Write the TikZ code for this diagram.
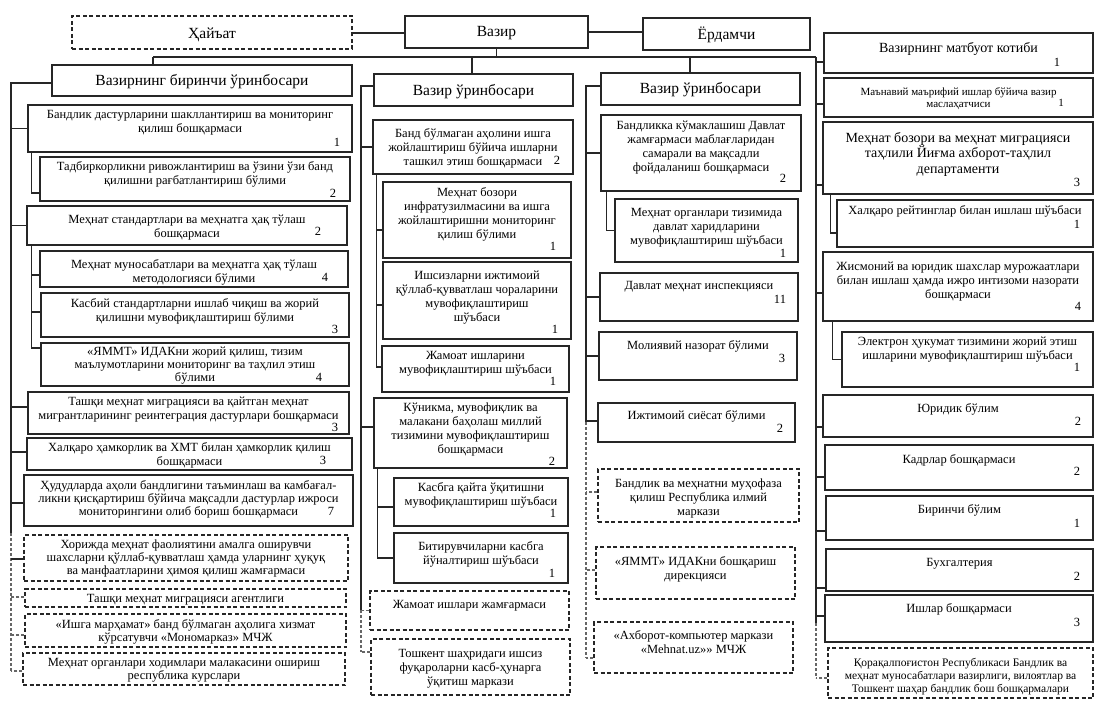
\documentclass[tikz,border=0pt]{standalone}
\usepackage{fontspec}
\setmainfont{Liberation Serif}
\usetikzlibrary{fit}
\newcommand\fl{\rule{0pt}{0.92em}}
% #1 extra box style, #2 name, #3 corner, #4 corner, #5 text style, #6 first-line centre y, #7 text
\newcommand\bx[7][]{%
  \node[box,#1,fit={(#3) (#4)}] (#2) {};
  \node[#5,anchor=north] (#2t) at (#2.center |- 0,#6) {\fl #7};}
\tikzset{
  box/.style={draw=black!85, line width=1.5pt, inner sep=0pt, fill=white},
  dbox/.style={dash pattern=on 4pt off 2.5pt, line width=1.4pt},
  conn/.style={draw=black!85, line width=1.3pt},
  dconn/.style={draw=black!60, line width=1.1pt, dash pattern=on 3pt off 2pt},
  base/.style={align=center, inner sep=0pt, text=black},
  txt/.style={base, font=\fontsize{12.5}{13.8}\selectfont, yshift=7pt},
  txtc/.style={base, font=\fontsize{12.5}{12.7}\selectfont, yshift=7pt},
  txts/.style={base, font=\fontsize{11.5}{13}\selectfont, yshift=6.4pt},
  ttl/.style={base, font=\fontsize{15.5}{17}\selectfont, yshift=8.7pt},
  ttm/.style={base, font=\fontsize{14}{15.5}\selectfont, yshift=7.9pt},
  sml/.style={base, font=\fontsize{11}{12}\selectfont, yshift=6.2pt},
  num/.style={font=\fontsize{12.5}{14}\selectfont, inner sep=0pt, text=black},
  nums/.style={num, font=\fontsize{11}{12}\selectfont},
}
\begin{document}
\begin{tikzpicture}[x=1pt,y=-1pt]
\useasboundingbox[fill=white] (0,0) rectangle (1100,714);

% ---- top row
\bx[dbox]{hay}{72,16}{352,49}{ttl}{33}{Ҳайъат}
\bx{vaz}{405,16}{588,48}{ttl}{31}{Вазир}
\bx{yor}{643,18}{810,50}{ttl}{34}{Ёрдамчи}
\bx{d1}{52,65}{352,96}{ttl}{80}{Вазирнинг биринчи ўринбосари}
\bx{d2}{374,74}{573,106}{ttl}{90}{Вазир ўринбосари}
\bx{d3}{601,73}{800,105}{ttl}{88}{Вазир ўринбосари}

% ---- column A
\bx{A1}{28,105}{352,152}{txt}{114}{Бандлик дастурларини шакллантириш ва мониторинг\\қилиш бошқармаси}
\node[num] (A1n) at (337,142) {1};
\bx{A1a}{40,157}{350,201}{txt}{166}{Тадбиркорликни ривожлантириш ва ўзини ўзи банд\\қилишни рағбатлантириш бўлими}
\node[num] (A1an) at (333,193) {2};
\bx{A2}{27,206}{347,245}{txt}{219}{Меҳнат стандартлари ва меҳнатга ҳақ тўлаш\\бошқармаси}
\node[num] (A2n) at (318,231) {2};
\bx{A2a}{40,251}{348,287}{txt}{264}{Меҳнат муносабатлари ва меҳнатга ҳақ тўлаш\\методологияси бўлими}
\node[num] (A2an) at (325,277) {4};
\bx{A2b}{41,293}{349,337}{txt}{303}{Касбий стандартларни ишлаб чиқиш ва жорий\\қилишни мувофиқлаштириш бўлими}
\node[num] (A2bn) at (335,329) {3};
\bx{A2c}{41,343}{349,386}{txtc}{351}{«ЯММТ» ИДАКни жорий қилиш, тизим\\маълумотларини мониторинг ва таҳлил этиш\\бўлими}
\node[num] (A2cn) at (319,377) {4};
\bx{A3}{28,392}{349,434}{txt}{401}{Ташқи меҳнат миграцияси ва қайтган меҳнат\\мигрантларининг реинтеграция дастурлари бошқармаси}
\node[num] (A3n) at (335,427) {3};
\bx{A4}{27,438}{352,470}{txt}{447}{Халқаро ҳамкорлик ва ХМТ билан ҳамкорлик қилиш\\бошқармаси}
\node[num] (A4n) at (323,460) {3};
\bx{A5}{24,475}{353,526}{txtc}{485}{Ҳудудларда аҳоли бандлигини таъминлаш ва камбағал-\\ликни қисқартириш бўйича мақсадли дастурлар ижроси\\мониторингини олиб бориш бошқармаси}
\node[num] (A5n) at (331,511) {7};
\bx[dbox]{A6}{24,535}{348,581}{txtc}{544}{Хорижда меҳнат фаолиятини амалга оширувчи\\шахсларни қўллаб-қувватлаш ҳамда уларнинг ҳуқуқ\\ва манфаатларини ҳимоя қилиш жамғармаси}
\bx[dbox]{A7}{25,589}{346,607}{txt}{598}{Ташқи меҳнат миграцияси агентлиги}
\bx[dbox]{A8}{25,614}{346,647}{txtc}{624}{«Ишга марҳамат» банд бўлмаган аҳолига хизмат\\кўрсатувчи «Мономарказ» МЧЖ}
\bx[dbox]{A9}{23,653}{345,685}{txtc}{662}{Меҳнат органлари ходимлари малакасини ошириш\\республика курслари}

% ---- column B
\bx{B1}{373,120}{573,174}{txt}{133}{Банд бўлмаган аҳолини ишга\\жойлаштириш бўйича ишларни\\ташкил этиш бошқармаси}
\node[num] (B1n) at (557,160) {2};
\bx{B1a}{383,182}{571,258}{txt}{192}{Меҳнат бозори\\инфратузилмасини ва ишга\\жойлаштиришни мониторинг\\қилиш бўлими}
\node[num] (B1an) at (553,246) {1};
\bx{B1b}{383,262}{571,339}{txt}{275}{Ишсизларни ижтимоий\\қўллаб-қувватлаш чораларини\\мувофиқлаштириш\\шўъбаси}
\node[num] (B1bn) at (555,329) {1};
\bx{B1c}{382,346}{569,392}{txt}{355}{Жамоат ишларини\\мувофиқлаштириш шўъбаси}
\node[num] (B1cn) at (553,381) {1};
\bx{B2}{374,398}{567,468}{txt}{407}{Кўникма, мувофиқлик ва\\малакани баҳолаш миллий\\тизимини мувофиқлаштириш\\бошқармаси}
\node[num] (B2n) at (552,461) {2};
\bx{B2a}{394,478}{568,526}{txt}{487}{Касбга қайта ўқитишни\\мувофиқлаштириш шўъбаси}
\node[num] (B2an) at (553,513) {1};
\bx{B2b}{394,533}{568,583}{txt}{546}{Битирувчиларни касбга\\йўналтириш шўъбаси}
\node[num] (B2bn) at (552,573) {1};
\bx[dbox]{B3}{370,591}{569,630}{txt}{604}{Жамоат ишлари жамғармаси}
\bx[dbox]{B4}{371,639}{570,695}{txt}{653}{Тошкент шаҳридаги ишсиз\\фуқароларни касб-ҳунарга\\ўқитиш маркази}

% ---- column C
\bx{C1}{601,115}{801,191}{txt}{125}{Бандликка кўмаклашиш Давлат\\жамғармаси маблағларидан\\самарали ва мақсадли\\фойдаланиш бошқармаси}
\node[num] (C1n) at (783,178) {2};
\bx{C1a}{615,199}{798,262}{txt}{212}{Меҳнат органлари тизимида\\давлат харидларини\\мувофиқлаштириш шўъбаси}
\node[num] (C1an) at (783,253) {1};
\bx{C2}{600,273}{798,321}{txt}{285}{Давлат меҳнат инспекцияси}
\node[num] (C2n) at (780,299) {11};
\bx{C3}{599,332}{797,380}{txt}{345}{Молиявий назорат бўлими}
\node[num] (C3n) at (782,358) {3};
\bx{C4}{598,403}{795,442}{txt}{415}{Ижтимоий сиёсат бўлими}
\node[num] (C4n) at (780,428) {2};
\bx[dbox]{C5}{598,469}{799,522}{txt}{483}{Бандлик ва меҳнатни муҳофаза\\қилиш Республика илмий\\маркази}
\bx[dbox]{C6}{596,547}{795,599}{txt}{561}{«ЯММТ» ИДАКни бошқариш\\дирекцияси}
\bx[dbox]{C7}{594,622}{793,673}{txt}{635}{«Ахборот-компьютер маркази\\«Mehnat.uz»» МЧЖ}

% ---- column D
\bx{D1}{824,33}{1093,73}{ttm}{47}{Вазирнинг матбуот котиби}
\node[num] (D1n) at (1057,62) {1};
\bx{D2}{824,78}{1093,117}{sml}{91}{Маънавий маърифий ишлар бўйича вазир\\маслаҳатчиси}
\node[nums] (D2n) at (1061,103) {1};
\bx{D3}{823,122}{1093,194}{ttm}{137}{Меҳнат бозори ва меҳнат миграцияси\\таҳлили Йиғма ахборот-таҳлил\\департаменти}
\node[num] (D3n) at (1077,182) {3};
\bx{D3a}{837,200}{1093,247}{txt}{210}{Халқаро рейтинглар билан ишлаш шўъбаси}
\node[num] (D3an) at (1077,224) {1};
\bx{D4}{823,252}{1093,321}{txt}{266}{Жисмоний ва юридик шахслар мурожаатлари\\билан ишлаш ҳамда ижро интизоми назорати\\бошқармаси}
\node[num] (D4n) at (1078,306) {4};
\bx{D4a}{842,332}{1093,387}{txt}{341}{Электрон ҳукумат тизимини жорий этиш\\ишларини мувофиқлаштириш шўъбаси}
\node[num] (D4an) at (1077,367) {1};
\bx{D5}{823,395}{1093,437}{txt}{408}{Юридик бўлим}
\node[num] (D5n) at (1078,421) {2};
\bx{D6}{825,445}{1093,490}{txt}{459}{Кадрлар бошқармаси}
\node[num] (D6n) at (1077,471) {2};
\bx{D7}{826,496}{1093,540}{txt}{509}{Биринчи бўлим}
\node[num] (D7n) at (1077,523) {1};
\bx{D8}{826,549}{1093,591}{txt}{562}{Бухгалтерия}
\node[num] (D8n) at (1077,576) {2};
\bx{D9}{825,595}{1093,642}{txt}{608}{Ишлар бошқармаси}
\node[num] (D9n) at (1077,622) {3};
\bx[dbox]{D10}{828,648}{1093,698}{txts}{662}{Қорақалпоғистон Республикаси Бандлик ва\\меҳнат муносабатлари вазирлиги, вилоятлар ва\\Тошкент шаҳар бандлик бош бошқармалари}

% ---- connectors: top
\draw[conn] ([yshift=-0.5pt]hay.east) -- ([yshift=-0.5pt]hay.east -| vaz.west);
\draw[conn] (vaz.east) -- (vaz.east -| yor.west);
\coordinate (busL) at (153,57);
\coordinate (busR) at (816,57);
\coordinate (bB) at (472,57);
\coordinate (bC) at (690,57);
\draw[conn] (busL) -- (busR);
\draw[conn] (vaz.south) -- (vaz.south |- busL);
\draw[conn] (busL) -- (busL |- d1.north);
\draw[conn] (bB) -- (bB |- d2.north);
\draw[conn] (bC) -- (bC |- d3.north);

% column A
\coordinate (sA) at (11,533);
\coordinate (sAe) at (11,672);
\draw[conn] ([yshift=-2.5pt]d1.west) -| (sA);
\draw[dconn] (sA) -- (sAe);
\foreach \n/\s in {A1/0,A2/0,A3/6,A4/2,A5/-2.5,A6/-1}
  \draw[conn] ([yshift=\s pt]\n.west) -- ([yshift=\s pt]\n.west -| sA);
\foreach \n/\s in {A7/1,A8/-4.5,A9/-2}
  \draw[dconn] ([yshift=\s pt]\n.west) -- ([yshift=\s pt]\n.west -| sA);
\draw[conn] ([xshift=4pt]A1.south west) |- ([yshift=-14pt]A1a.west);
\foreach \n/\s in {A2a/-6,A2b/3,A2c/16.5}
  \draw[conn] ([xshift=5pt]A2.south west) |- ([yshift=\s pt]\n.west);

% column B
\coordinate (sB) at (361,610);
\coordinate (sBe) at (361,652);
\draw[conn] ([yshift=4pt]d2.west) -| (sB);
\draw[dconn] (sB) -- (sBe);
\foreach \n/\s in {B1/0,B2/6}
  \draw[conn] ([yshift=\s pt]\n.west) -- ([yshift=\s pt]\n.west -| sB);
\foreach \n/\s in {B3/0,B4/15}
  \draw[dconn] ([yshift=\s pt]\n.west) -- ([yshift=\s pt]\n.west -| sB);
\foreach \n/\s in {B1a/-10,B1b/-4.5,B1c/2}
  \draw[conn] ([xshift=4pt]B1.south west) |- ([yshift=\s pt]\n.west);
\foreach \n/\s in {B2a/-5,B2b/0}
  \draw[conn] ([xshift=4pt]B2.south west) |- ([yshift=\s pt]\n.west);

% column C
\coordinate (sC) at (586,422);
\coordinate (sCe) at (586,658);
\draw[conn] ([yshift=3pt]d3.west) -| (sC);
\draw[dconn] (sC) -- (sCe);
\foreach \n/\s in {C1/0,C2/0,C3/0,C4/1.5}
  \draw[conn] ([yshift=\s pt]\n.west) -- ([yshift=\s pt]\n.west -| sC);
\foreach \n/\s in {C5/3.5,C6/3,C7/-10.5}
  \draw[dconn] ([yshift=\s pt]\n.west) -- ([yshift=\s pt]\n.west -| sC);
\draw[conn] ([xshift=6pt]C1.south west) |- (C1a.west);

% column D
\coordinate (sD) at (816,623);
\coordinate (sDe) at (816,678);
\draw[conn] (busR) -- (sD);
\draw[dconn] (sD) -- (sDe);
\foreach \n/\s in {D1/-9,D2/-6.5,D3/-27,D4/-6.5,D5/-11,D6/-9.5,D7/-13,D8/-18,D9/2.5}
  \draw[conn] ([yshift=\s pt]\n.west) -- ([yshift=\s pt]\n.west -| sD);
\draw[dconn] ([yshift=-5pt]D10.west) -- ([yshift=-5pt]D10.west -| sD);
\draw[conn] ([xshift=8pt]D3.south west) |- ([yshift=-9.5pt]D3a.west);
\draw[conn] ([xshift=10pt]D4.south west) |- (D4a.west);
\end{tikzpicture}
\end{document}
